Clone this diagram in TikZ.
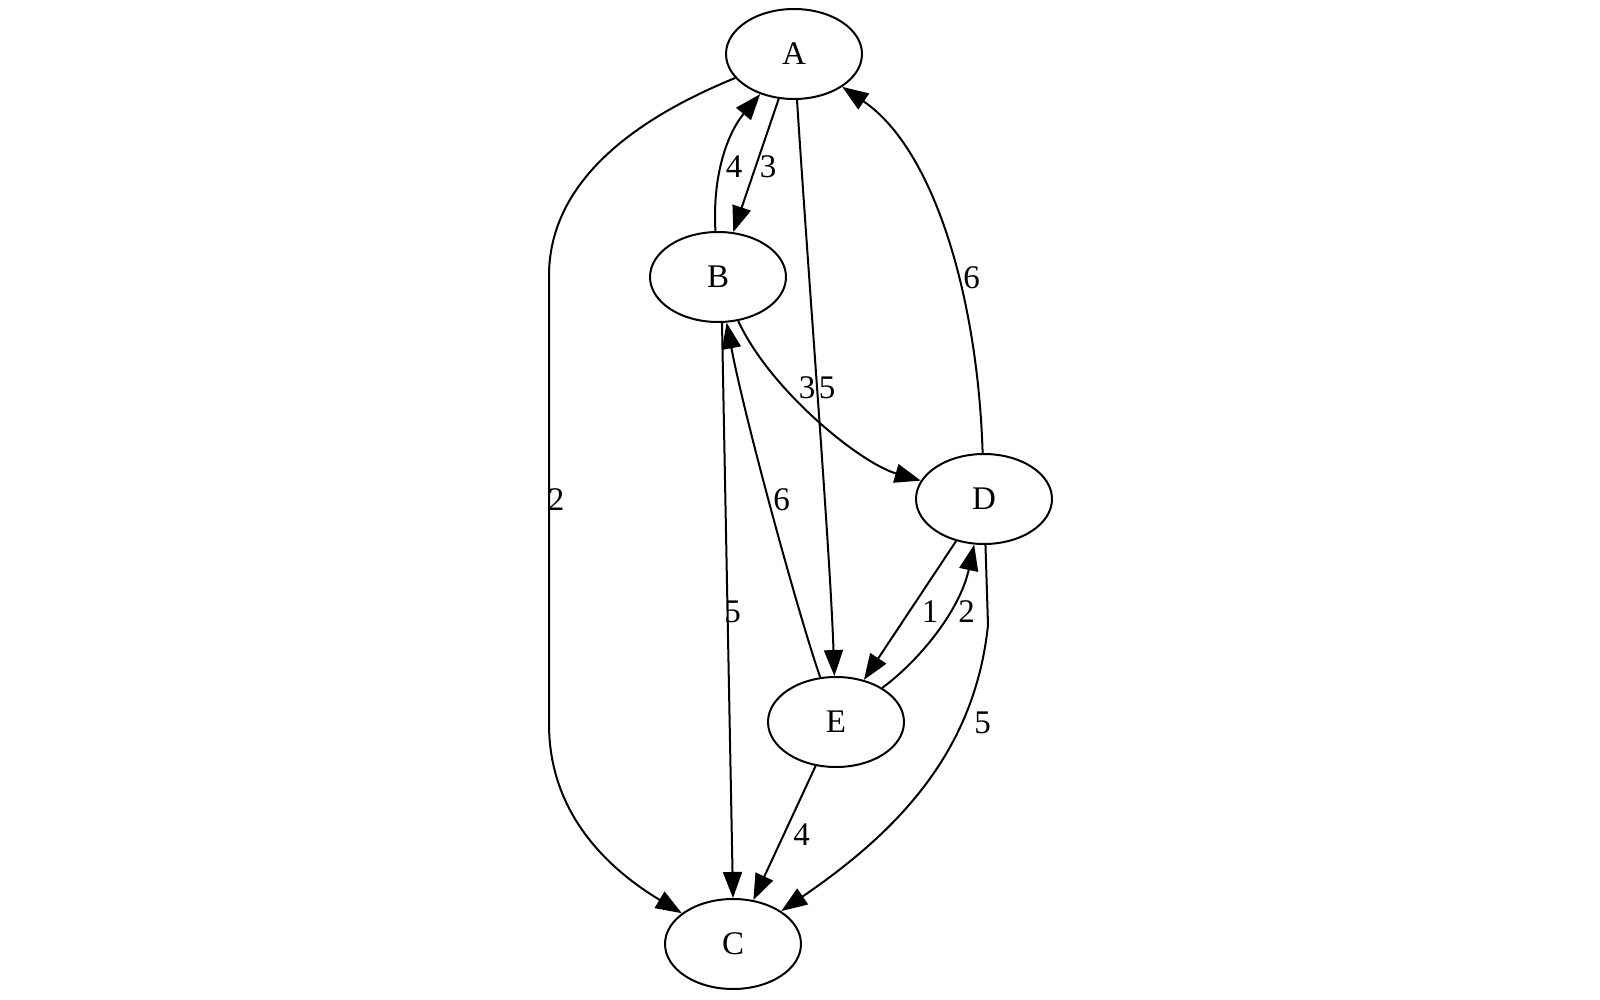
\documentclass[tikz,border=0pt]{standalone}
\usepackage{fontspec}
\setmainfont{Liberation Serif}
\usetikzlibrary{shapes.geometric,arrows.meta}
\begin{document}
\begin{tikzpicture}[x=0.5pt,y=-0.5pt,
  vtx/.style={draw,ellipse,line width=1pt,minimum width=68pt,minimum height=45pt,inner sep=0pt,font=\fontsize{16.5}{18}\selectfont},
  edge/.style={draw,line width=1pt,-{Triangle[length=13pt,width=9.5pt]}},
  lbl/.style={inner sep=0pt,font=\fontsize{16.5}{18}\selectfont}]
\useasboundingbox (0,0) rectangle (1600,1000);
\node[vtx] (A) at (794,54) {A};
\node[vtx] (B) at (718,277) {B};
\node[vtx] (D) at (984,499) {D};
\node[vtx] (E) at (836,722) {E};
\node[vtx] (C) at (733,944) {C};
% A -> C
\draw[edge] (A) .. controls (620,125) and (549,190) .. (549,276) -- (549,724) .. controls (549,815) and (610,870) .. (C);
% A -> B
\draw[edge] (A) -- (B);
% B -> A
\draw[edge] (B) .. controls (712,170) and (730,130) .. (A);
% A -> E
\draw[edge] (A) .. controls (810,300) and (830,550) .. (E);
% B -> D
\draw[edge] (B) .. controls (770,390) and (860,463) .. (D);
% D -> A
\draw[edge] (D) .. controls (978,300) and (935,150) .. (A);
% E -> B
\draw[edge] (E) .. controls (800,620) and (745,420) .. (B);
% B -> C
\draw[edge] ([xshift=2pt]B.south) -- (C.north);
% D -> E
\draw[edge] (D) -- (E);
% E -> D
\draw[edge] (E) .. controls (920,660) and (960,610) .. (D);
% D -> C
\draw[edge] (D) -- (988,625) .. controls (975,750) and (900,830) .. (C);
% E -> C
\draw[edge] (E) -- (C);
% labels
\node[lbl] (lAC) at (556,500) {2};
\node[lbl] (lAB) at (768,167) {3};
\node[lbl] (lBA) at (734,167) {4};
\node[lbl] (lAE) at (827,388) {5};
\node[lbl] (lBD) at (807,388) {3};
\node[lbl] (lDA) at (971.5,277.5) {6};
\node[lbl] (lEB) at (781.6,500) {6};
\node[lbl] (lBC) at (732.7,612) {5};
\node[lbl] (lDE) at (930,612) {1};
\node[lbl] (lED) at (966.7,612) {2};
\node[lbl] (lDC) at (982.6,722.5) {5};
\node[lbl] (lEC) at (801.7,835) {4};
\end{tikzpicture}
\end{document}
